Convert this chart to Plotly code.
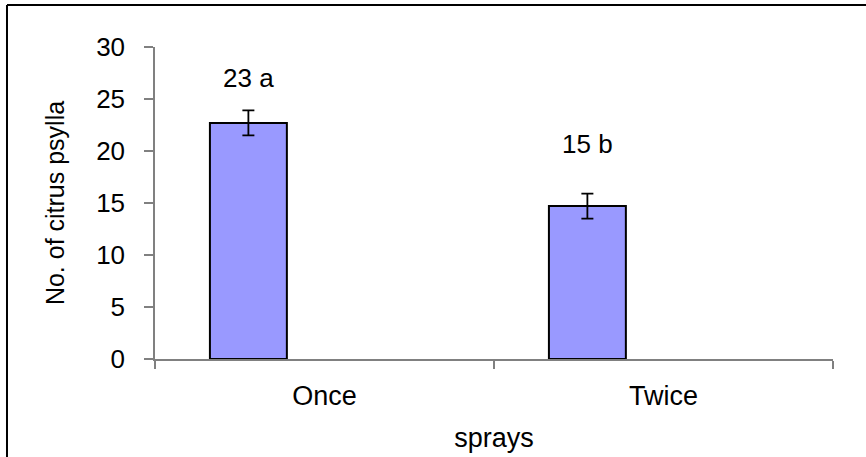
import plotly.graph_objects as go

# Citrus psylla counts by number of sprays
categories = ["Once", "Twice"]
means = [22.7, 14.7]
errors = [1.2, 1.2]
letters = ["a", "b"]
y_ticks = [0, 5, 10, 15, 20, 25, 30]

FONT = "Liberation Sans, Arial, sans-serif"
BAR_WIDTH = 0.227
BAR_OFFSET = -0.338          # bar sits left of the category centre
label_heights = [27.0, 20.7]  # y position of the significance labels

fig = go.Figure()
fig.add_trace(go.Bar(
    x=categories,
    y=means,
    width=BAR_WIDTH,
    offset=BAR_OFFSET,
    marker=dict(color="#9999FF", line=dict(color="black", width=2)),
    error_y=dict(type="data", array=errors, visible=True,
                 color="black", thickness=1.8, width=6),
    showlegend=False,
))

for i, (m, letter, ly) in enumerate(zip(means, letters, label_heights)):
    fig.add_annotation(
        x=i + BAR_OFFSET + BAR_WIDTH / 2, y=ly, xref="x", yref="y",
        text=f"{round(m)} {letter}", showarrow=False,
        font=dict(family=FONT, size=26, color="black"),
    )

# outer chart frame (top and left edges)
fig.add_shape(type="line", xref="paper", yref="paper",
              x0=-0.2183, x1=1.2, y0=1.1346, y1=1.1346,
              line=dict(color="black", width=2))
fig.add_shape(type="line", xref="paper", yref="paper",
              x0=-0.2183, x1=-0.2183, y0=1.1346, y1=-0.4,
              line=dict(color="black", width=2))

fig.update_layout(
    width=866, height=457,
    margin=dict(l=155, r=33, t=47, b=98),
    paper_bgcolor="white", plot_bgcolor="white",
    font=dict(family=FONT, size=26, color="black"),
    xaxis=dict(
        range=[-0.5, 1.5], tickson="boundaries", automargin=False,
        showline=True, linecolor="#808080", linewidth=1.5,
        ticks="outside", ticklen=8, tickcolor="#808080", tickwidth=1.5,
        ticklabelstandoff=12,
        showgrid=False, zeroline=False,
        tickfont=dict(family=FONT, size=27, color="black"),
        title=dict(text="sprays", standoff=18,
                   font=dict(family=FONT, size=27, color="black")),
    ),
    yaxis=dict(
        range=[0, 30], tickvals=y_ticks, automargin=False,
        showline=True, linecolor="#808080", linewidth=1.5,
        ticks="outside", ticklen=9, tickcolor="#808080", tickwidth=1.5,
        ticklabelstandoff=14,
        showgrid=False, zeroline=False,
        tickfont=dict(family=FONT, size=26, color="black"),
        title=dict(text="No. of citrus psylla", standoff=24,
                   font=dict(family=FONT, size=25, color="black")),
    ),
)

fig.write_html("out.html")
